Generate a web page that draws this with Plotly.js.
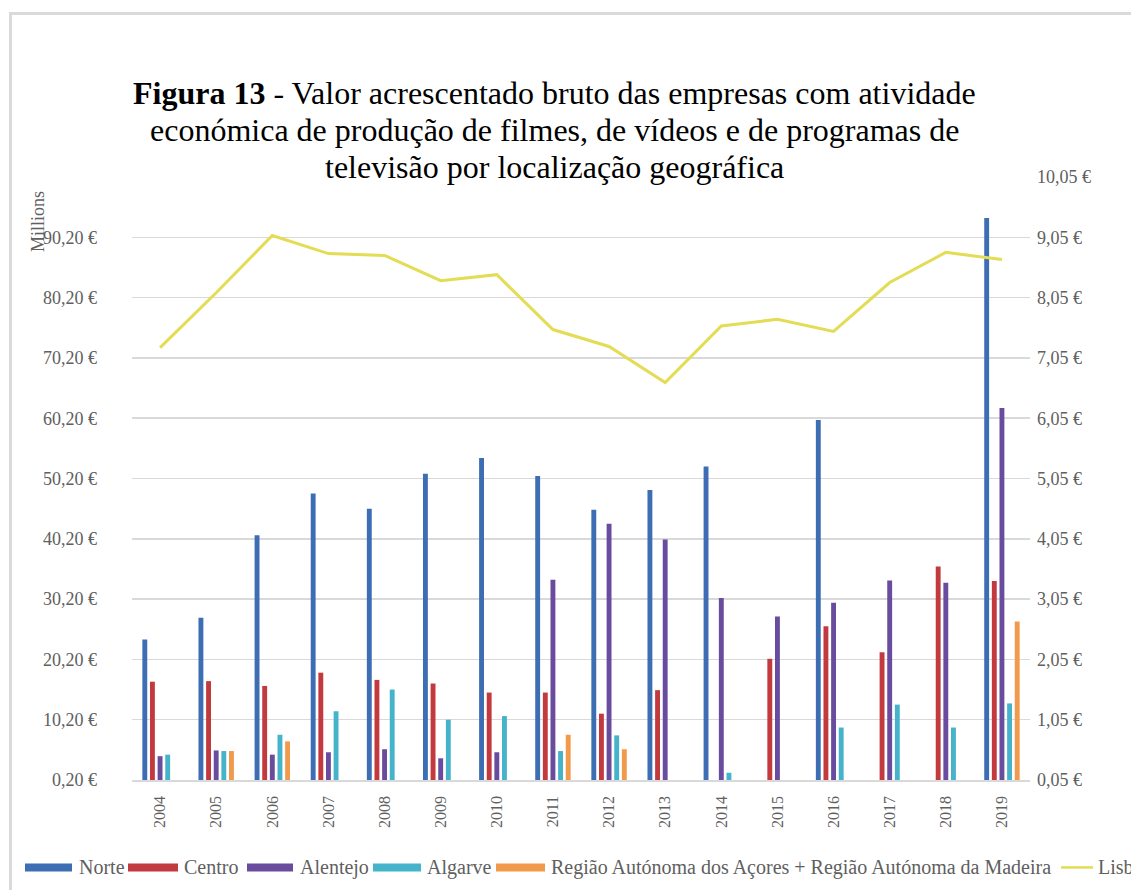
<!DOCTYPE html>
<html>
<head>
<meta charset="utf-8">
<script src="https://cdn.plot.ly/plotly-3.0.1.min.js"></script>
<style>
  html, body { margin:0; padding:0; background:#fff; overflow:hidden; }
  #frame { position:absolute; left:9px; top:12px; width:1200px; height:1000px;
           border-left:3px solid #dadada; border-top:3px solid #dadada; pointer-events:none; z-index:5; }
  #chart { position:absolute; left:0; top:0; width:1131px; height:890px; }
</style>
</head>
<body>
<div id="chart"></div>
<div id="frame"></div>
<script>
// ---- data ----
const years = ['2004','2005','2006','2007','2008','2009','2010','2011','2012','2013','2014','2015','2016','2017','2018','2019'];
const norte    = [23.5, 27.1, 40.8, 47.7, 45.2, 51.0, 53.6, 50.6, 45.0, 48.3, 52.2, 0, 59.9, 0, 0, 93.4];
const centro   = [16.5, 16.6, 15.8, 18.0, 16.8, 16.2, 14.7, 14.7, 11.2, 15.1, 0, 20.3, 25.7, 21.4, 35.6, 33.2];
const alentejo = [4.15, 5.1, 4.4, 4.8, 5.3, 3.8, 4.8, 33.4, 42.7, 40.1, 30.4, 27.3, 29.6, 33.3, 32.9, 61.9];
const algarve  = [4.4, 5.0, 7.7, 11.6, 15.2, 10.2, 10.8, 5.0, 7.6, 0, 1.4, 0, 8.9, 12.7, 8.9, 12.9];
const acores   = [0, 5.0, 6.6, 0, 0, 0, 0, 7.7, 5.3, 0, 0, 0, 0, 0, 0, 26.5];
const lisboa   = [7.22, 8.13, 9.08, 8.78, 8.75, 8.33, 8.43, 7.52, 7.24, 6.64, 7.58, 7.69, 7.49, 8.30, 8.80, 8.68];

const leftTickVals  = [0.2, 10.2, 20.2, 30.2, 40.2, 50.2, 60.2, 70.2, 80.2, 90.2];
const leftTickText  = ['0,20 €','10,20 €','20,20 €','30,20 €','40,20 €','50,20 €','60,20 €','70,20 €','80,20 €','90,20 €'];
const rightTickVals = [0.05, 1.05, 2.05, 3.05, 4.05, 5.05, 6.05, 7.05, 8.05, 9.05, 10.05];
const rightTickText = ['0,05 €','1,05 €','2,05 €','3,05 €','4,05 €','5,05 €','6,05 €','7,05 €','8,05 €','9,05 €','10,05 €'];

const seriesNames = ['Norte','Centro','Alentejo','Algarve','Região Autónoma dos Açores + Região Autónoma da Madeira','Lisboa'];
const titleLines = [
  '<b>Figura 13</b> - Valor acrescentado bruto das empresas com atividade',
  'económica de produção de filmes, de vídeos e de programas de',
  'televisão por localização geográfica'
];
const colors = ['#3d6db3','#c23a3d','#6a4c9e','#45b3c9','#f19a4c','#e3dc55'];

// ---- layout geometry (pixels) ----
const W = 1131, H = 890;
const L = 132, R = 1030, T = 177, B = 780.5;
const px = x => (x - L) / (R - L);
const py = y => (B - y) / (B - T);

const serif = 'Liberation Serif, Times New Roman, serif';
const grey = '#606060';

const barSeries = [norte, centro, alentejo, algarve, acores];
const traces = barSeries.map((vals, i) => ({
  type: 'bar', x: years, y: vals, name: seriesNames[i],
  marker: { color: colors[i], line: { width: 0 } },
  showlegend: false, yaxis: 'y', hoverinfo: 'skip'
}));
traces.push({
  type: 'scatter', mode: 'lines', x: years, y: lisboa, name: 'Lisboa',
  line: { color: colors[5], width: 3 }, yaxis: 'y2', showlegend: false, hoverinfo: 'skip'
});

// custom legend (swatches + labels)
const legendItems = [
  { sw: [25, 72],   tx: 77 },
  { sw: [128, 178], tx: 182 },
  { sw: [247, 293], tx: 298 },
  { sw: [373, 421], tx: 425 },
  { sw: [496, 545], tx: 549 },
  { sw: [1061, 1093], tx: 1096, line: true }
];
const legY = 868;
const shapes = [];
const annotations = [];
legendItems.forEach((it, i) => {
  if (it.line) {
    shapes.push({ type: 'line', xref: 'paper', yref: 'paper',
      x0: px(it.sw[0]), x1: px(it.sw[1]), y0: py(legY), y1: py(legY),
      line: { color: colors[i], width: 2.5 } });
  } else {
    shapes.push({ type: 'rect', xref: 'paper', yref: 'paper',
      x0: px(it.sw[0]), x1: px(it.sw[1]), y0: py(legY + 4), y1: py(legY - 4),
      fillcolor: colors[i], line: { width: 0 } });
  }
  annotations.push({ xref: 'paper', yref: 'paper', x: px(it.tx), y: py(legY),
    xanchor: 'left', yanchor: 'middle', showarrow: false, text: seriesNames[i],
    font: { family: serif, size: 20, color: grey } });
});
annotations.push({ xref: 'paper', yref: 'paper', x: px(38), y: py(222),
  xanchor: 'center', yanchor: 'middle', showarrow: false, text: 'Millions', textangle: -90,
  font: { family: serif, size: 18, color: grey } });

// title lines (Word-style single spacing)
const titleY = [93, 130, 167];
titleLines.forEach((t, i) => {
  annotations.push({ xref: 'paper', yref: 'paper', x: px(554), y: py(titleY[i]),
    xanchor: 'center', yanchor: 'middle', showarrow: false, text: t,
    font: { family: serif, size: 32, color: '#000000' } });
});

const layout = {
  width: W, height: H,
  margin: { l: L, r: W - R, t: T, b: H - B, pad: 0 },
  paper_bgcolor: '#ffffff', plot_bgcolor: '#ffffff',
  barmode: 'group', bargap: 0.32, bargroupgap: 0.36,
  xaxis: {
    type: 'category', tickangle: -90, ticks: '', showgrid: false,
    showline: true, linecolor: '#d9d9d9', linewidth: 1.5,
    tickfont: { family: serif, size: 16, color: grey }, ticklabelstandoff: 8
  },
  yaxis: {
    range: [0.2, 100.2], tickvals: leftTickVals, ticktext: leftTickText,
    showgrid: true, gridcolor: '#d9d9d9', gridwidth: 1.5, zeroline: false,
    tickfont: { family: serif, size: 18, color: grey }, ticklabelstandoff: 34, ticks: ''
  },
  yaxis2: {
    range: [0.05, 10.05], tickvals: rightTickVals, ticktext: rightTickText,
    overlaying: 'y', side: 'right', showgrid: false, zeroline: false,
    tickfont: { family: serif, size: 18, color: grey }, ticklabelstandoff: 6, ticks: ''
  },
  shapes: shapes,
  annotations: annotations,
  showlegend: false
};

Plotly.newPlot('chart', traces, layout, { staticPlot: true, displayModeBar: false });
</script>
</body>
</html>
